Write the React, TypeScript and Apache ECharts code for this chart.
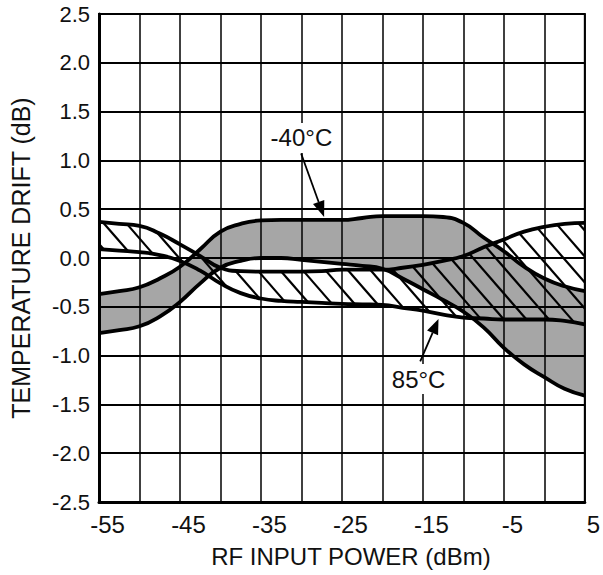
import React, { useEffect, useRef } from "react";
import * as echarts from "echarts";

// RF input power (dBm)
const powerDbm = [-55, -52.5, -50, -47.5, -45, -42.5, -40, -37.5, -35, -32.5, -30, -27.5, -25, -22.5, -20, -17.5, -15, -12.5, -10, -7.5, -5, -2.5, 0, 2.5, 5];
// -40°C band (grey): upper and lower boundary (dB)
const coldUpper = [-0.37, -0.34, -0.3, -0.21, -0.09, 0.09, 0.27, 0.35, 0.385, 0.39, 0.39, 0.39, 0.39, 0.41, 0.43, 0.43, 0.43, 0.42, 0.36, 0.21, 0.07, -0.09, -0.21, -0.29, -0.34];
const coldLower = [-0.77, -0.74, -0.7, -0.6, -0.45, -0.26, -0.1, -0.03, 0.0, 0.0, -0.02, -0.04, -0.06, -0.08, -0.11, -0.21, -0.32, -0.43, -0.55, -0.71, -0.92, -1.09, -1.22, -1.34, -1.41];
// 85°C band (hatched): upper and lower boundary (dB)
const hotUpper = [0.37, 0.35, 0.33, 0.25, 0.14, 0.02, -0.1, -0.135, -0.14, -0.14, -0.14, -0.135, -0.12, -0.12, -0.12, -0.1, -0.07, -0.03, 0.02, 0.11, 0.19, 0.27, 0.32, 0.35, 0.36];
const hotLower = [0.09, 0.075, 0.06, 0.03, -0.03, -0.13, -0.26, -0.36, -0.415, -0.44, -0.45, -0.46, -0.47, -0.475, -0.48, -0.51, -0.54, -0.58, -0.61, -0.62, -0.63, -0.63, -0.63, -0.645, -0.68];
// tick labels
const xTickLabels = [-55, -45, -35, -25, -15, -5, 5];
const yTickLabels = [-2.5, -2.0, -1.5, -1.0, -0.5, 0.0, 0.5, 1.0, 1.5, 2.0, 2.5];
const annotations = ["-40°C", "85°C"];

const FONT = "Liberation Sans, Arial, sans-serif";
const SMOOTH = 0.5;

export default function App() {
  const ref = useRef<HTMLDivElement>(null);
  useEffect(() => {
    if (!ref.current) return;
    const chart = echarts.init(ref.current, null, { renderer: "svg" });
    const pair = (ys: number[]) => powerDbm.map((x, i) => [x, ys[i]]);

    const option: any = {
      animation: false,
      backgroundColor: "#fff",
      grid: { left: 99, right: 16, top: 14, bottom: 73, show: true, borderColor: "#000", borderWidth: 2, z: 3 },
      xAxis: {
        type: "value", min: -55, max: 5, interval: 5, z: 3,
        name: "RF INPUT POWER (dBm)", nameLocation: "middle", nameGap: 42,
        nameTextStyle: { fontFamily: FONT, fontSize: 24, color: "#111", padding: [0, 0, 0, 18] },
        axisLine: { show: true, onZero: false, lineStyle: { color: "#000", width: 3 } },
        axisTick: { show: false },
        splitLine: { show: true, lineStyle: { color: "#000", width: 1.5 } },
        axisLabel: {
          margin: 10, fontFamily: FONT, fontSize: 24, color: "#111", padding: [0, 0, 0, 17],
          showMinLabel: true, showMaxLabel: true,
          formatter: (v: number) => (xTickLabels.some((t) => Math.abs(t - v) < 1e-6) ? String(Math.round(v)) : ""),
        },
      },
      yAxis: {
        type: "value", min: -2.5, max: 2.5, interval: 0.5, z: 3,
        name: "TEMPERATURE DRIFT (dB)", nameLocation: "middle", nameGap: 66, nameRotate: 90,
        nameTextStyle: { fontFamily: FONT, fontSize: 25, color: "#111" },
        axisLine: { show: true, onZero: false, lineStyle: { color: "#000", width: 3 } },
        axisTick: { show: false },
        splitLine: { show: true, lineStyle: { color: "#000", width: 2.2 } },
        axisLabel: {
          margin: 9, fontFamily: FONT, fontSize: 22, color: "#111",
          showMinLabel: true, showMaxLabel: true,
          formatter: (v: number) => {
            const t = yTickLabels.find((y) => Math.abs(y - v) < 1e-6);
            return t === undefined ? "" : t.toFixed(1);
          },
        },
      },
      series: [
        {
          type: "line", name: "coldUpperFill", data: pair(coldUpper),
          smooth: SMOOTH, symbol: "none", lineStyle: { width: 0, opacity: 0 },
          areaStyle: { color: "#a6a6a6", opacity: 1, origin: "start" }, z: 1, silent: true,
        },
        {
          type: "line", name: "coldLowerMask", data: pair(coldLower),
          smooth: SMOOTH, symbol: "none", lineStyle: { width: 0, opacity: 0 },
          areaStyle: { color: "#ffffff", opacity: 1, origin: "start" }, z: 1.5, silent: true,
        },
        {
          type: "custom", name: "hotHatch", coordinateSystem: "cartesian2d", z: 2, silent: true, clip: true,
          data: [[powerDbm[0], hotUpper[0]]],
          renderItem: (_p: any, api: any) => {
            const up = powerDbm.map((x, i) => api.coord([x, hotUpper[i]]));
            const lo = powerDbm.map((x, i) => api.coord([x, hotLower[i]])).reverse();
            const poly = up.concat(lo);
            const m = 1.15;
            const step = 26;
            let fmin = Infinity;
            let fmax = -Infinity;
            poly.forEach((p: number[]) => {
              const f = p[1] - m * p[0];
              if (f < fmin) fmin = f;
              if (f > fmax) fmax = f;
            });
            const children: any[] = [];
            for (let k = Math.ceil(fmin / step) * step; k <= fmax; k += step) {
              const pts: number[][] = [];
              for (let i = 0; i < poly.length; i++) {
                const p1 = poly[i];
                const p2 = poly[(i + 1) % poly.length];
                const f1 = p1[1] - m * p1[0];
                const f2 = p2[1] - m * p2[0];
                if ((f1 - k) * (f2 - k) < 0) {
                  const t = (k - f1) / (f2 - f1);
                  pts.push([p1[0] + t * (p2[0] - p1[0]), p1[1] + t * (p2[1] - p1[1])]);
                }
              }
              pts.sort((a, b) => a[0] - b[0]);
              for (let j = 0; j + 1 < pts.length; j += 2) {
                children.push({
                  type: "line",
                  shape: { x1: pts[j][0], y1: pts[j][1], x2: pts[j + 1][0], y2: pts[j + 1][1] },
                  style: { stroke: "#000", lineWidth: 2.2 },
                });
              }
            }
            return { type: "group", children };
          },
        },
        ...[coldUpper, coldLower, hotUpper, hotLower].map((ys, idx) => ({
          type: "line", name: "edge" + idx, data: pair(ys), smooth: SMOOTH, symbol: "none",
          lineStyle: { color: "#000", width: 3.8 }, z: 4, silent: true,
        })),
      ],
    };
    chart.setOption(option);

    const px = (p: number[]) => chart.convertToPixel({ gridIndex: 0 }, p) as number[];
    const arrow = (from: number[], to: number[], len: number, hw: number) => {
      const a = px(from);
      const b = px(to);
      const dx = b[0] - a[0];
      const dy = b[1] - a[1];
      const L = Math.hypot(dx, dy);
      const ux = dx / L;
      const uy = dy / L;
      const bx = b[0] - ux * len;
      const by = b[1] - uy * len;
      return [
        { type: "line", z: 10, shape: { x1: a[0], y1: a[1], x2: bx, y2: by }, style: { stroke: "#000", lineWidth: 1.8 } },
        {
          type: "polygon", z: 10,
          shape: { points: [[b[0], b[1]], [bx - uy * hw, by + ux * hw], [bx + uy * hw, by - ux * hw]] },
          style: { fill: "#000" },
        },
      ];
    };
    const label = (text: string, at: number[]) => {
      const p = px(at);
      return {
        type: "text", z: 10, x: p[0], y: p[1],
        style: {
          text, font: `24px ${FONT}`, fill: "#111", align: "center", verticalAlign: "middle",
          backgroundColor: "#fff", padding: [3, 3, 3, 3],
        },
      };
    };
    chart.setOption({
      graphic: [
        label(annotations[0], [-30.0, 1.23]),
        ...arrow([-30.04, 1.07], [-27.2, 0.42], 16, 6),
        label(annotations[1], [-15.53, -1.24]),
        ...arrow([-15.33, -1.06], [-13.07, -0.625], 15, 6),
      ],
    });
    return () => chart.dispose();
  }, []);
  return <div ref={ref} style={{ position: "fixed", left: 0, top: 0, width: 603, height: 575 }} />;
}
